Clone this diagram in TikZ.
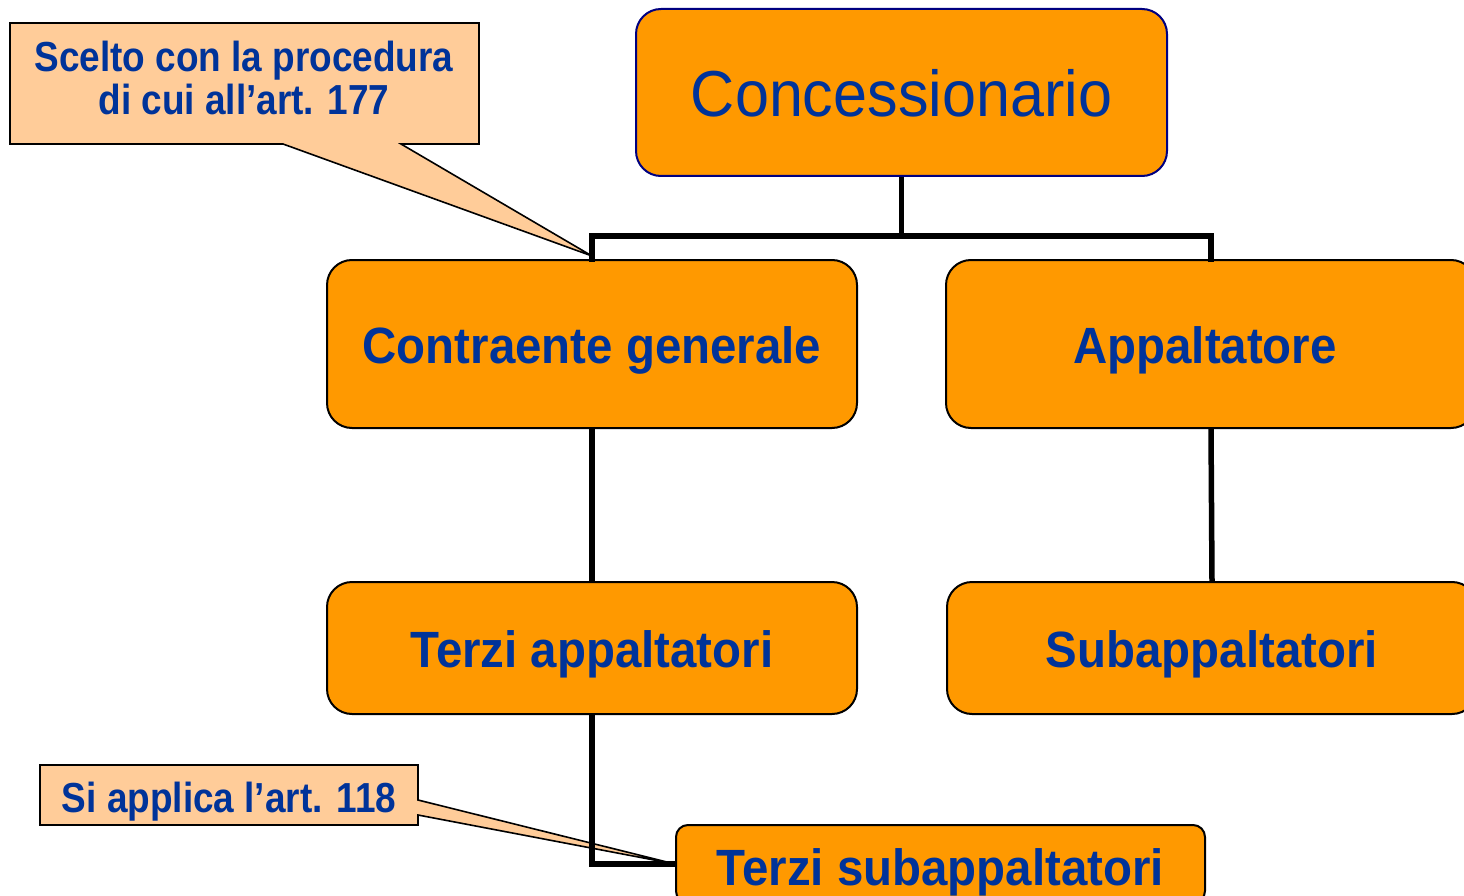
\documentclass[tikz,border=0pt]{standalone}
\usepackage{fontspec}
\setmainfont{Liberation Sans}
\newfontfamily\boxfont[FakeStretch=0.93]{Liberation Sans}
\newfontfamily\concfont[FakeStretch=0.94]{Liberation Sans}
\newfontfamily\callfont[FakeStretch=0.88]{Liberation Sans}
\definecolor{boxorange}{HTML}{FF9900}
\definecolor{peach}{HTML}{FFCC99}
\definecolor{txtblue}{HTML}{003399}
\definecolor{navyb}{HTML}{000080}
\tikzset{
  orgbox/.style={draw=black, line width=2pt, fill=boxorange, rounded corners=25pt,
    inner sep=0pt, text=txtblue, text height=38pt, text depth=0pt,
    font=\boxfont\bfseries\fontsize{51}{60}\selectfont},
  conn/.style={draw=black, line width=5.5pt},
  callshape/.style={draw=black, line width=1.6pt, fill=peach, line join=miter},
  calltext/.style={anchor=base, inner sep=0pt, text=txtblue, font=\callfont\bfseries\fontsize{42}{44}\selectfont}
}
\begin{document}
\begin{tikzpicture}[x=1pt,y=-1pt]
\path[use as bounding box] (0,0) rectangle (1464,896);
\clip (0,0) rectangle (1464,896);
\fill[white] (0,0) rectangle (1464,896);

% nodes
\node[orgbox, draw=navyb, minimum width=531pt, minimum height=167pt, text height=48pt,
      font=\concfont\fontsize{65}{75}\selectfont] (conc) at (901.5,92.5) {Concessionario};
\node[orgbox, minimum width=530pt, minimum height=168pt] (cg) at (592,344) {Contraente generale};
\node[orgbox, minimum width=530pt, minimum height=168pt] (app) at (1211,344) {Appaltatore\kern12pt};
\node[orgbox, minimum width=530pt, minimum height=132pt] (ta) at (592,648) {Terzi appaltatori};
\node[orgbox, minimum width=530pt, minimum height=132pt] (sub) at (1212,648) {Subappaltatori};
\node[orgbox, rounded corners=12pt, minimum width=529pt, minimum height=78pt, text height=42pt] (ts) at (940.5,864) {Terzi subappaltatori};

% callout 2 (drawn under the connector)
\path[callshape] (40,765) -- (418,765) -- (418,800) -- (ts.west) -- (418,815) -- (418,825) -- (40,825) -- cycle;
\node[calltext] (c2) at (229,812) {Si applica l’art. 118};

% connectors
\coordinate (bar) at (0,236);
\draw[conn] (conc.south) -- (conc.south |- bar);
\draw[conn, line cap=rect] (cg.north) -- (cg.north |- bar) -- (app.north |- bar) -- (app.north);
\draw[conn] (cg.south) -- (ta.north);
\draw[conn] (app.south) -- (sub.north);
\draw[conn] (ta.south) |- (ts.west);

% callout 1
\path[callshape] (10,23) -- (479,23) -- (479,144) -- (401,144) -- ([yshift=3pt]cg.north) -- (283,144) -- (10,144) -- cycle;
\node[calltext] (c1a) at (244,72) {Scelto con la procedura};
\node[calltext] (c1b) at (244,115) {di cui all’art. 177};
\end{tikzpicture}
\end{document}
